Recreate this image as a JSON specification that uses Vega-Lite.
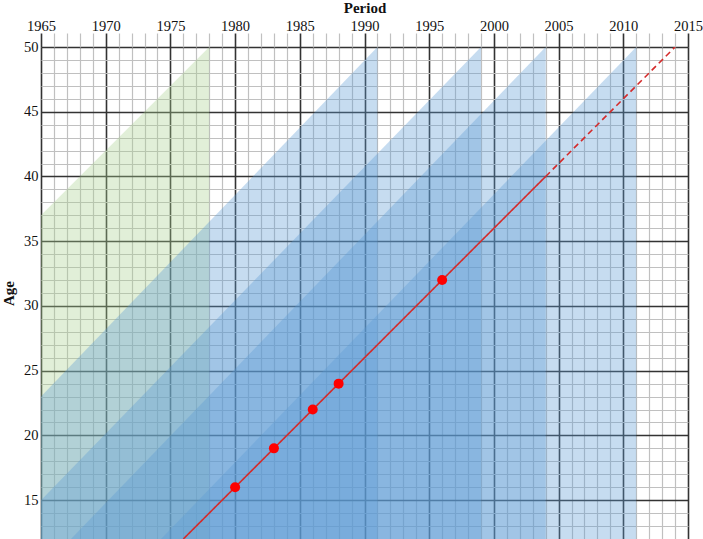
{
  "$schema": "https://vega.github.io/schema/vega-lite/v6.json",
  "width": 647,
  "height": 492,
  "autosize": {"type": "none"},
  "padding": {"left": 41, "top": 47, "right": 15, "bottom": 0},
  "background": "white",
  "config": {
    "view": {"stroke": null},
    "font": "Liberation Serif",
    "axis": {"labelFont": "Liberation Serif", "titleFont": "Liberation Serif"}
  },
  "datasets": {
    "regions": [
      {"survey": "1978", "period": 1965, "age": 37},
      {"survey": "1978", "period": 1978, "age": 50},
      {"survey": "1991", "period": 1965, "age": 23},
      {"survey": "1991", "period": 1991, "age": 50},
      {"survey": "1999", "period": 1965, "age": 15},
      {"survey": "1999", "period": 1999, "age": 50},
      {"survey": "2004", "period": 1965, "age": 9.6},
      {"survey": "2004", "period": 2004, "age": 50},
      {"survey": "2011", "period": 1965, "age": 2.4},
      {"survey": "2011", "period": 2011, "age": 50}
    ],
    "cohort": [
      {"seg": "solid", "period": 1976, "age": 12},
      {"seg": "solid", "period": 2004, "age": 40},
      {"seg": "dashed", "period": 2004, "age": 40},
      {"seg": "dashed", "period": 2014, "age": 50}
    ],
    "points": [
      {"period": 1980, "age": 16},
      {"period": 1983, "age": 19},
      {"period": 1986, "age": 22},
      {"period": 1988, "age": 24},
      {"period": 1996, "age": 32}
    ]
  },
  "encoding": {
    "x": {
      "field": "period",
      "type": "quantitative",
      "scale": {"domain": [1965, 2015], "nice": false, "zero": false},
      "axis": {
        "orient": "top",
        "title": "Period",
        "values": [1965,1966,1967,1968,1969,1970,1971,1972,1973,1974,1975,1976,1977,1978,1979,1980,1981,1982,1983,1984,1985,1986,1987,1988,1989,1990,1991,1992,1993,1994,1995,1996,1997,1998,1999,2000,2001,2002,2003,2004,2005,2006,2007,2008,2009,2010,2011,2012,2013,2014,2015],
        "format": "d",
        "labelExpr": "datum.value % 5 === 0 ? datum.label : ''",
        "labelOverlap": false,
        "labelFlush": false,
        "grid": true,
        "gridColor": {"condition": {"test": "datum.value % 5 === 0", "value": "#333333"}, "value": "#c0c0c0"},
        "gridWidth": {"condition": {"test": "datum.value % 5 === 0", "value": 1.6}, "value": 1.2},
        "tickSize": 14,
        "tickColor": {"condition": {"test": "datum.value % 5 === 0", "value": "#333333"}, "value": "#c0c0c0"},
        "tickWidth": {"condition": {"test": "datum.value % 5 === 0", "value": 1.6}, "value": 1.2},
        "domain": false,
        "labelFontSize": 14.5,
        "labelColor": "#111111",
        "labelPadding": 0,
        "titleFontSize": 15,
        "titleFontWeight": "bold",
        "titleColor": "#111111",
        "titlePadding": 3
      }
    },
    "y": {
      "field": "age",
      "type": "quantitative",
      "scale": {"domain": [12, 50], "nice": false, "zero": false},
      "axis": {
        "title": "Age",
        "values": [12,13,14,15,16,17,18,19,20,21,22,23,24,25,26,27,28,29,30,31,32,33,34,35,36,37,38,39,40,41,42,43,44,45,46,47,48,49,50],
        "labelExpr": "datum.value % 5 === 0 ? datum.label : ''",
        "labelOverlap": false,
        "labelFlush": false,
        "grid": true,
        "gridColor": {"condition": {"test": "datum.value % 5 === 0", "value": "#333333"}, "value": "#c0c0c0"},
        "gridWidth": {"condition": {"test": "datum.value % 5 === 0", "value": 1.6}, "value": 1.2},
        "ticks": false,
        "domain": false,
        "labelFontSize": 14.5,
        "labelColor": "#111111",
        "labelPadding": 3,
        "titleFontSize": 15,
        "titleFontWeight": "bold",
        "titleColor": "#111111",
        "titlePadding": 7
      }
    }
  },
  "layer": [
    {
      "data": {"name": "regions"},
      "mark": {"type": "area", "clip": true, "opacity": 0.35},
      "encoding": {
        "y": {"field": "age", "type": "quantitative", "stack": null},
        "y2": {"datum": 0},
        "color": {
          "field": "survey",
          "type": "nominal",
          "scale": {"domain": ["1978", "1991", "1999", "2004", "2011"], "range": ["#a9d08e", "#5b9bd5", "#5b9bd5", "#5b9bd5", "#5b9bd5"]},
          "legend": null
        }
      }
    },
    {
      "data": {"name": "cohort"},
      "mark": {"type": "line", "clip": true, "color": "#d42a2a", "strokeWidth": 1.6},
      "encoding": {
        "strokeDash": {
          "field": "seg",
          "type": "nominal",
          "scale": {"domain": ["solid", "dashed"], "range": [[1, 0], [6, 4]]},
          "legend": null
        }
      }
    },
    {
      "data": {"name": "points"},
      "mark": {"type": "point", "filled": true, "color": "#ff0000", "size": 100, "opacity": 1}
    }
  ]
}
